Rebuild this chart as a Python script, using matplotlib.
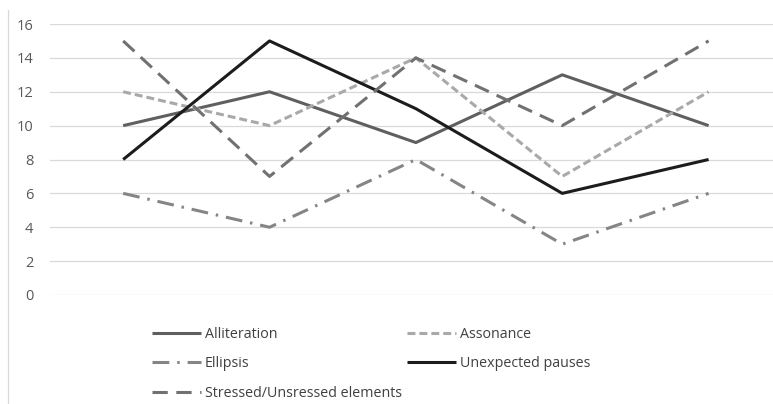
import matplotlib.pyplot as plt
from matplotlib.lines import Line2D

categories = [1, 2, 3, 4, 5]
alliteration = [10, 12, 9, 13, 10]
assonance = [12, 10, 14, 7, 12]
ellipsis = [6, 4, 8, 3, 6]
pauses = [8, 15, 11, 6, 8]
stressed = [15, 7, 14, 10, 15]
y_ticks = [0, 2, 4, 6, 8, 10, 12, 14, 16]

plt.rcParams['font.family'] = ['Open Sans', 'DejaVu Sans']

fig = plt.figure(figsize=(7.73, 4.04), dpi=100)
ax = fig.add_axes([50 / 773, 1 - 295 / 404, 1 - 50 / 773, (295 - 24) / 404])

x = list(range(len(categories)))
lw = 2.2
l1, = ax.plot(x, alliteration, color='#5f5f5f', lw=lw, solid_capstyle='butt',
              label='Alliteration')
l2, = ax.plot(x, assonance, color='#a9a9a9', lw=lw, dashes=(2.6, 1.3),
              dash_capstyle='butt', label='Assonance')
l3, = ax.plot(x, ellipsis, color='#858585', lw=lw, dashes=(5.5, 2.6, 0.8, 2.6),
              dash_capstyle='butt', label='Ellipsis')
l4, = ax.plot(x, pauses, color='#1c1c1c', lw=lw, solid_capstyle='butt',
              label='Unexpected pauses')
l5, = ax.plot(x, stressed, color='#717171', lw=lw, dashes=(5, 2.8),
              dash_capstyle='butt', label='Stressed/Unsressed elements')

ax.set_xlim(-0.5, 4.44)
ax.set_ylim(0, 16)
ax.set_yticks(y_ticks)
ax.set_xticks([])
ax.grid(axis='y', color='#d9d9d9', lw=0.9)
ax.set_axisbelow(True)
for s in ax.spines.values():
    s.set_visible(False)
ax.tick_params(axis='y', length=0, pad=12, labelsize=10.5, labelcolor='#595959')

leg = fig.legend(handles=[l1, l3, l5, l2, l4], ncol=2, frameon=False,
                 loc='upper left', bbox_to_anchor=(145 / 773, 1 - 320 / 404),
                 fontsize=10.3, handlelength=3.4, handletextpad=0.3,
                 columnspacing=0.35, labelspacing=1.0, borderpad=0,
                 labelcolor='#404040')

fig.add_artist(Line2D([8 / 773, 8 / 773], [0, 1 - 10 / 404], color='#d9d9d9', lw=0.9))

fig.savefig('out.png', dpi=100)
